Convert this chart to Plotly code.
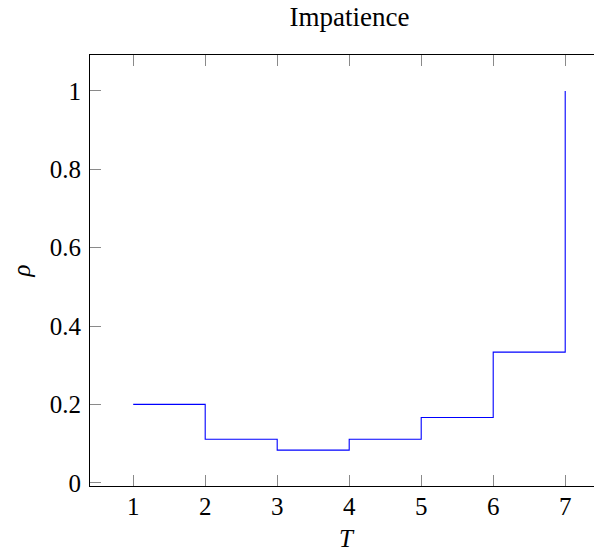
import plotly.graph_objects as go

T = [1, 2, 3, 4, 5, 6, 7]
rho = [0.2, 0.1111, 0.0833, 0.1111, 0.1667, 0.3333, 1.0]
ytick_vals = [0, 0.2, 0.4, 0.6, 0.8, 1.0]
ytick_text = ["0", "0.2", "0.4", "0.6", "0.8", "1"]
xtick_vals = T
xtick_text = [str(t) for t in T]

FONT = "'Liberation Serif', 'Times New Roman', 'DejaVu Serif', serif"

fig = go.Figure()
fig.add_trace(go.Scatter(x=T, y=rho, mode="lines", line_shape="hv",
                         line=dict(color="#0000ff", width=1.1), showlegend=False))
# invisible trace to activate right-side ticks
fig.add_trace(go.Scatter(x=[T[0]], y=[rho[0]], yaxis="y2", mode="lines",
                         line=dict(width=0), showlegend=False, hoverinfo="skip"))

fig.update_layout(
    width=594, height=546,
    margin=dict(l=82, r=0, t=47, b=68),
    paper_bgcolor="white", plot_bgcolor="white",
    font=dict(family=FONT, size=25, color="black"),
    title=dict(text="Impatience", x=(341.5) / 594, xanchor="center",
               y=1 - 9 / 546, yanchor="middle", yref="container",
               font=dict(family=FONT, size=27, color="black")),
    xaxis=dict(range=[0.4, 7.511], tickvals=xtick_vals, ticktext=xtick_text,
               showgrid=False, zeroline=False, showline=True, linecolor="black",
               linewidth=1.2, mirror="ticks", ticks="inside", ticklen=11,
               tickwidth=1, tickcolor="#8a8a8a", ticklabelstandoff=-2,
               title=dict(text="<i>T</i>", standoff=10,
                          font=dict(family=FONT, size=25))),
    yaxis=dict(range=[-0.0083, 1.0917], tickvals=ytick_vals, ticktext=ytick_text,
               showgrid=False, zeroline=False, showline=True, linecolor="black",
               linewidth=1.2, ticks="inside", ticklen=11, tickwidth=1,
               tickcolor="#8a8a8a", ticklabelstandoff=3,
               title=dict(text="<i>ρ</i>", standoff=19,
                          font=dict(family=FONT, size=25))),
    yaxis2=dict(range=[-0.0083, 1.0917], tickvals=ytick_vals, overlaying="y",
                side="right", showticklabels=False, showgrid=False, zeroline=False,
                showline=False, ticks="inside", ticklen=5, tickwidth=1,
                tickcolor="#8a8a8a"),
)

fig.write_html("out.html")
